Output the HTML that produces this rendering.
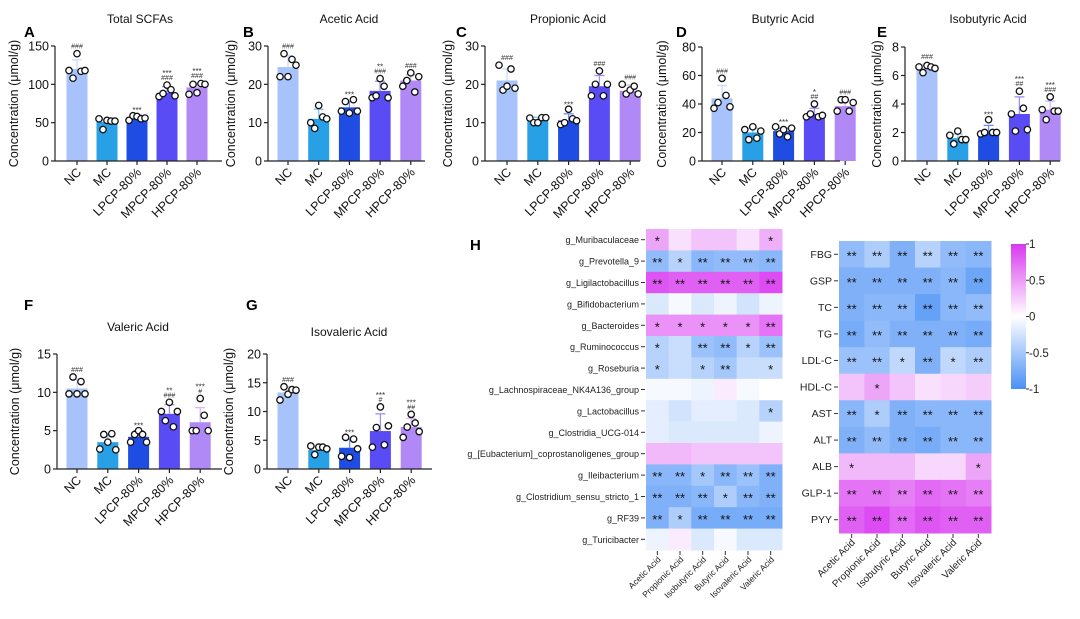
<!DOCTYPE html>
<html><head><meta charset="utf-8">
<style>
body{margin:0;background:#fff;}
svg{display:block;font-family:"Liberation Sans",Arial,sans-serif;}
</style></head>
<body>
<svg id="fig" width="1080" height="619" viewBox="0 0 1080 619"></svg>
<script>
const groups = ["NC","MC","LPCP-80%","MPCP-80%","HPCP-80%"];
const barColors = ["#a8c3fb","#27a0e6","#1f4de4","#5a4cf4","#b189f7"];
const errColors = ["#c9daff","#7cc6f3","#6b8cf0","#9a90fa","#d2b8fb"];

const meansA = [120,51,57,89,96];
const sdA = [12,3,3,8,6];
const ptsA = [[118,108,140,117,118],[55,41,53,52,52],[53,59,58,55,56],[84,88,99,93,85],[87,100,89,101,100]];
const annA = [["###"],[],["***"],["***","###"],["***","###"]];

const meansB = [24.5,11,14,18.3,21];
const sdB = [3,2.5,1.5,2.5,1.5];
const ptsB = [[22,28,22,26.5,25],[10,8.5,14.5,11.5,11],[13,15.5,12.5,16,13],[16.5,17,21.5,19.5,16.5],[19.5,21,23,18,22]];
const annB = [["###"],[],["***"],["**","###"],["###"]];

const meansC = [21,10.8,10.6,19.5,18.3];
const sdC = [3,0.6,1.7,2.8,1.5];
const ptsC = [[25,18.5,19.5,24,19],[11.2,10,10,11.3,11.3],[9.5,10,13.5,11,10.5],[17,20,23.5,17,20],[20,17.5,18.5,19.5,17.5]];
const annC = [["###"],[],["***"],["###"],["###"]];

const meansD = [44,20,21,33,38.5];
const sdD = [9,3,2,4,4];
const ptsD = [[37,41,58,46,38],[22,15,24,16,21],[24,19,22,17,23],[31,33,40,31,32],[35,43,43,35,41]];
const annD = [["###"],[],["***"],["*","##"],["###"]];

const meansE = [6.5,1.6,2.0,3.3,3.6];
const sdE = [0.3,0.3,0.5,1.2,0.6];
const ptsE = [[6.6,6.2,6.7,6.6,6.5],[1.8,1.2,2.1,1.5,1.5],[1.9,2.0,2.9,2.0,2.0],[3.3,2.1,4.9,3.7,2.2],[3.6,2.9,4.5,3.5,3.5]];
const annE = [["###"],[],["***"],["***","##"],["***","###"]];

const meansF = [10.5,3.5,4.2,7.2,6.1];
const sdF = [1.2,1,0.8,1.2,1.9];
const ptsF = [[9.8,12,9.8,11.4,9.8],[2.6,4.5,3.5,4.6,2.5],[3.5,4.5,5,4.5,3.5],[7.5,6.3,8.7,5.5,7.5],[5,5,9.2,7,5]];
const annF = [["###"],[],["***"],["**","###"],["***","#"]];

const meansG = [13.3,3.3,3.7,6.6,7.3];
const sdG = [1,0.6,1.5,3,1.5];
const ptsG = [[12,14.3,13,13.8,13.7],[4,2.5,3.8,3.8,3.5],[2.2,5.5,2,5.2,3.5],[3.8,7.2,10.8,4.2,7.5],[5.5,7.3,9.5,8,6.5]];
const annG = [["###"],[],["***"],["***","#"],["***","##"]];

const ticksA=[0,50,100,150], ticksB=[0,10,20,30], ticksC=[0,10,20,30], ticksD=[0,20,40,60,80], ticksE=[0,2,4,6,8], ticksF=[0,5,10,15], ticksG=[0,5,10,15,20];

const hmCols = ["Acetic Acid","Propionic Acid","Isobutyric Acid","Butyric Acid","Isovaleric Acid","Valeric Acid"];
const hmRowsH = ["g_Muribaculaceae","g_Prevotella_9","g_Ligilactobacillus","g_Bifidobacterium","g_Bacteroides","g_Ruminococcus","g_Roseburia","g_Lachnospiraceae_NK4A136_group","g_Lactobacillus","g_Clostridia_UCG-014","g_[Eubacterium]_coprostanoligenes_group","g_Ileibacterium","g_Clostridium_sensu_stricto_1","g_RF39","g_Turicibacter"];
const hmValsH = [[0.45,0.15,0.3,0.3,0.15,0.4],[-0.6,-0.4,-0.65,-0.6,-0.6,-0.65],[0.85,0.8,0.8,0.8,0.8,0.9],[-0.2,-0.05,-0.2,-0.1,-0.25,-0.1],[0.55,0.55,0.55,0.55,0.55,0.7],[-0.4,-0.3,-0.55,-0.6,-0.4,-0.55],[-0.4,-0.3,-0.4,-0.5,-0.3,-0.3],[-0.05,-0.05,-0.1,0.1,-0.05,0],[-0.15,-0.25,-0.15,-0.15,-0.2,-0.4],[-0.15,-0.2,-0.2,-0.2,-0.2,-0.1],[0.35,0.35,0.3,0.3,0.3,0.3],[-0.65,-0.65,-0.5,-0.65,-0.55,-0.7],[-0.7,-0.7,-0.65,-0.45,-0.65,-0.7],[-0.7,-0.45,-0.75,-0.75,-0.75,-0.75],[-0.1,0.1,-0.2,-0.05,-0.2,-0.2]];
const hmStarsH = [["*","","","","","*"],["**","*","**","**","**","**"],["**","**","**","**","**","**"],["","","","","",""],["*","*","*","*","*","**"],["*","","**","**","*","**"],["*","","*","**","","*"],["","","","","",""],["","","","","","*"],["","","","","",""],["","","","","",""],["**","**","*","**","**","**"],["**","**","**","*","**","**"],["**","*","**","**","**","**"],["","","","","",""]];

const hmRowsR = ["FBG","GSP","TC","TG","LDL-C","HDL-C","AST","ALT","ALB","GLP-1","PYY"];
const hmValsR = [[-0.6,-0.45,-0.7,-0.4,-0.6,-0.65],[-0.7,-0.7,-0.7,-0.7,-0.65,-0.8],[-0.7,-0.65,-0.65,-0.85,-0.65,-0.6],[-0.75,-0.6,-0.7,-0.7,-0.7,-0.75],[-0.55,-0.55,-0.35,-0.7,-0.35,-0.45],[0.3,0.45,0.3,0.15,0.2,0.25],[-0.65,-0.45,-0.7,-0.65,-0.65,-0.65],[-0.7,-0.6,-0.7,-0.75,-0.65,-0.65],[0.35,0.35,0.35,0.2,0.2,0.45],[0.7,0.7,0.65,0.75,0.7,0.65],[0.8,0.9,0.75,0.85,0.8,0.8]];
const hmStarsR = [["**","**","**","**","**","**"],["**","**","**","**","**","**"],["**","**","**","**","**","**"],["**","**","**","**","**","**"],["**","**","*","**","*","**"],["","*","","","",""],["**","*","**","**","**","**"],["**","**","**","**","**","**"],["*","","","","","*"],["**","**","**","**","**","**"],["**","**","**","**","**","**"]];
const cbTicks = [1,0.5,0,-0.5,-1];

const NS="http://www.w3.org/2000/svg";
const svg=document.getElementById('fig');
function mk(tag,attrs,parent,text){const e=document.createElementNS(NS,tag);for(const k in attrs)e.setAttribute(k,attrs[k]);if(text!==undefined)e.textContent=text;(parent||svg).appendChild(e);return e;}

function barPanel(cfg){
  const g=mk('g',{});
  
  
  const max=cfg.ticks[cfg.ticks.length-1];
  const ys=v=>cfg.y0-(v/max)*(cfg.y0-cfg.ytop);
  const xs=i=>cfg.ax+cfg.off+i*cfg.step;
  const t=mk('text',{x:cfg.tx,y:cfg.ty,'font-size':12,'text-anchor':'middle',fill:'#111'},g,cfg.title);
  
  
  const l=mk('text',{x:cfg.lx,y:cfg.ly,'font-size':15,'font-weight':'bold',fill:'#000'},g,cfg.letter);
  
  
  const yl=mk('text',{x:0,y:0,'font-size':12.5,'text-anchor':'middle',fill:'#111',transform:`translate(${cfg.ylx},${(cfg.y0+cfg.ytop)/2}) rotate(-90)`},g,'Concentration (μmol/g)');
  
  
  const dx=[-8,-4,0,4,8];
  cfg.means.forEach((m,i)=>{
    const cx=xs(i);
    const b=mk('rect',{x:cx-10.5,y:ys(m),width:21,height:cfg.y0-ys(m),fill:barColors[i]},g);
    
    
    const top=ys(m+cfg.sd[i]);
    mk('line',{x1:cx,x2:cx,y1:ys(m),y2:top,stroke:errColors[i],'stroke-width':1.3},g);
    mk('line',{x1:cx-5,x2:cx+5,y1:top,y2:top,stroke:errColors[i],'stroke-width':1.3},g);
    cfg.pts[i].forEach((p,j)=>{
      const c=mk('circle',{cx:cx+dx[j],cy:ys(p),r:3.2,fill:'#fff',stroke:'#111','stroke-width':1.3},g);
      
      
    });
    const hi=Math.min(top,...cfg.pts[i].map(ys));
    const an=cfg.ann[i];
    an.forEach((s,k)=>{
      const yy=hi-5-(an.length-1-k)*7;
      mk('text',{x:cx,y:yy+(s.startsWith('*')?3:0),'font-size':s.startsWith('*')?8:7,'text-anchor':'middle',fill:'#333'},g,s);
    });
  });
  mk('line',{x1:cfg.ax,x2:cfg.ax,y1:cfg.ytop,y2:cfg.y0,stroke:'#222','stroke-width':1.2},g);
  mk('line',{x1:cfg.ax,x2:cfg.xend,y1:cfg.y0,y2:cfg.y0,stroke:'#222','stroke-width':1.2},g);
  cfg.ticks.forEach(v=>{
    mk('line',{x1:cfg.ax-4,x2:cfg.ax,y1:ys(v),y2:ys(v),stroke:'#222','stroke-width':1.2},g);
    const tt=mk('text',{x:cfg.ax-6,y:ys(v)+4.5,'font-size':12.5,'text-anchor':'end',fill:'#111'},g,String(v));
    
    
  });
  groups.forEach((gname,i)=>{
    mk('line',{x1:xs(i),x2:xs(i),y1:cfg.y0,y2:cfg.y0+4,stroke:'#222','stroke-width':1.2},g);
    const ct=mk('text',{x:0,y:0,'font-size':12.5,'text-anchor':'end',fill:'#111',transform:`translate(${xs(i)+5},${cfg.y0+12}) rotate(-45)`},g,gname);
    
    
  });
}

barPanel({name:'panel-a-total-scfas',title:'Total SCFAs',letter:'A',tx:140,ty:23,lx:24,ly:37,ylx:18,ax:55,off:22,step:30,xend:222,y0:161,ytop:46,ticks:ticksA,means:meansA,sd:sdA,pts:ptsA,ann:annA});
barPanel({name:'panel-b-acetic-acid',title:'Acetic Acid',letter:'B',tx:349,ty:23,lx:243,ly:37,ylx:235,ax:268,off:20,step:30.7,xend:425,y0:161,ytop:46,ticks:ticksB,means:meansB,sd:sdB,pts:ptsB,ann:annB});
barPanel({name:'panel-c-propionic-acid',title:'Propionic  Acid',letter:'C',tx:568,ty:23,lx:456,ly:37,ylx:452,ax:485,off:22,step:30.8,xend:640,y0:161,ytop:46,ticks:ticksC,means:meansC,sd:sdC,pts:ptsC,ann:annC});
barPanel({name:'panel-d-butyric-acid',title:'Butyric Acid',letter:'D',tx:783,ty:23,lx:676,ly:37,ylx:666,ax:702,off:20,step:30.8,xend:840,y0:161,ytop:47,ticks:ticksD,means:meansD,sd:sdD,pts:ptsD,ann:annD});
barPanel({name:'panel-e-isobutyric-acid',title:'Isobutyric Acid',letter:'E',tx:988,ty:23,lx:877,ly:37,ylx:881,ax:905,off:22,step:30.8,xend:1060,y0:161,ytop:47,ticks:ticksE,means:meansE,sd:sdE,pts:ptsE,ann:annE});
barPanel({name:'panel-f-valeric-acid',title:'Valeric Acid',letter:'F',tx:138,ty:331,lx:24,ly:310,ylx:19,ax:57,off:20,step:30.8,xend:222,y0:469,ytop:354,ticks:ticksF,means:meansF,sd:sdF,pts:ptsF,ann:annF});
barPanel({name:'panel-g-isovaleric-acid',title:'Isovaleric Acid',letter:'G',tx:349,ty:336,lx:246,ly:310,ylx:233,ax:267,off:21,step:30.8,xend:432,y0:469,ytop:354,ticks:ticksG,means:meansG,sd:sdG,pts:ptsG,ann:annG});

function colorOf(v){
  const neg=[74,144,245], pos=[216,56,240], w=[255,255,255];
  const t=Math.min(1,Math.abs(v)); const c=v<0?neg:pos;
  return `rgb(${Math.round(w[0]+(c[0]-w[0])*t)},${Math.round(w[1]+(c[1]-w[1])*t)},${Math.round(w[2]+(c[2]-w[2])*t)})`;
}
function heatmap(cfg){
  const g=mk('g',{});
  
  
  const cw=(cfg.x1-cfg.x0)/hmCols.length, rh=(cfg.y1-cfg.y0)/cfg.rows.length;
  cfg.vals.forEach((row,r)=>row.forEach((v,c)=>{
    const cell=mk('rect',{x:cfg.x0+c*cw,y:cfg.y0+r*rh,width:cw+0.5,height:rh+0.5,fill:colorOf(v)},g);
    
    
    const s=cfg.stars[r][c];
    if(s) mk('text',{x:cfg.x0+(c+0.5)*cw,y:cfg.y0+(r+0.5)*rh+6,'font-size':13,'text-anchor':'middle',fill:'#111'},g,s);
  }));
  cfg.rows.forEach((name,r)=>{
    const y=cfg.y0+(r+0.5)*rh;
    mk('line',{x1:cfg.x0-5,x2:cfg.x0-1,y1:y,y2:y,stroke:'#333'},g);
    const t=mk('text',{x:cfg.x0-7,y:y+3.5,'font-size':cfg.fs,'text-anchor':'end',fill:'#222'},g,name);
    
    
  });
  hmCols.forEach((name,c)=>{
    const x=cfg.x0+(c+0.5)*cw;
    mk('line',{x1:x,x2:x,y1:cfg.y1+1,y2:cfg.y1+5,stroke:'#333'},g);
    const t=mk('text',{x:0,y:0,'font-size':cfg.cfs,'text-anchor':'end',fill:'#222',transform:`translate(${x+4},${cfg.y1+10}) rotate(-45)`},g,name);
    
    
  });
}
const hl=mk('text',{x:470,y:250,'font-size':15,'font-weight':'bold'},svg,'H');


heatmap({name:'heatmap-microbiota',x0:646,x1:782,y0:229,y1:550,rows:hmRowsH,vals:hmValsH,stars:hmStarsH,fs:9,cfs:8.5});
heatmap({name:'heatmap-biochemical',x0:839,x1:991,y0:241,y1:533,rows:hmRowsR,vals:hmValsR,stars:hmStarsR,fs:10.5,cfs:10});

const cbx=1011,cbw=15,cby0=244,cby1=389;
const defs=mk('defs',{});
const lg=mk('linearGradient',{id:'cbgrad',x1:0,y1:0,x2:0,y2:1},defs);
cbTicks.forEach((v,i)=>mk('stop',{offset:(i/(cbTicks.length-1)),'stop-color':colorOf(v)},lg));
const cb=mk('rect',{x:cbx,y:cby0,width:cbw,height:cby1-cby0,fill:'url(#cbgrad)'});


cbTicks.forEach(v=>{
  const y=cby0+(1-v)/2*(cby1-cby0);
  mk('line',{x1:cbx+cbw,x2:cbx+cbw+3,y1:y,y2:y,stroke:'#333'});
  const t=mk('text',{x:cbx+cbw+3,y:y+4,'font-size':11.5,fill:'#222'},svg,String(v));
  
  
});
</script>
</body></html>
